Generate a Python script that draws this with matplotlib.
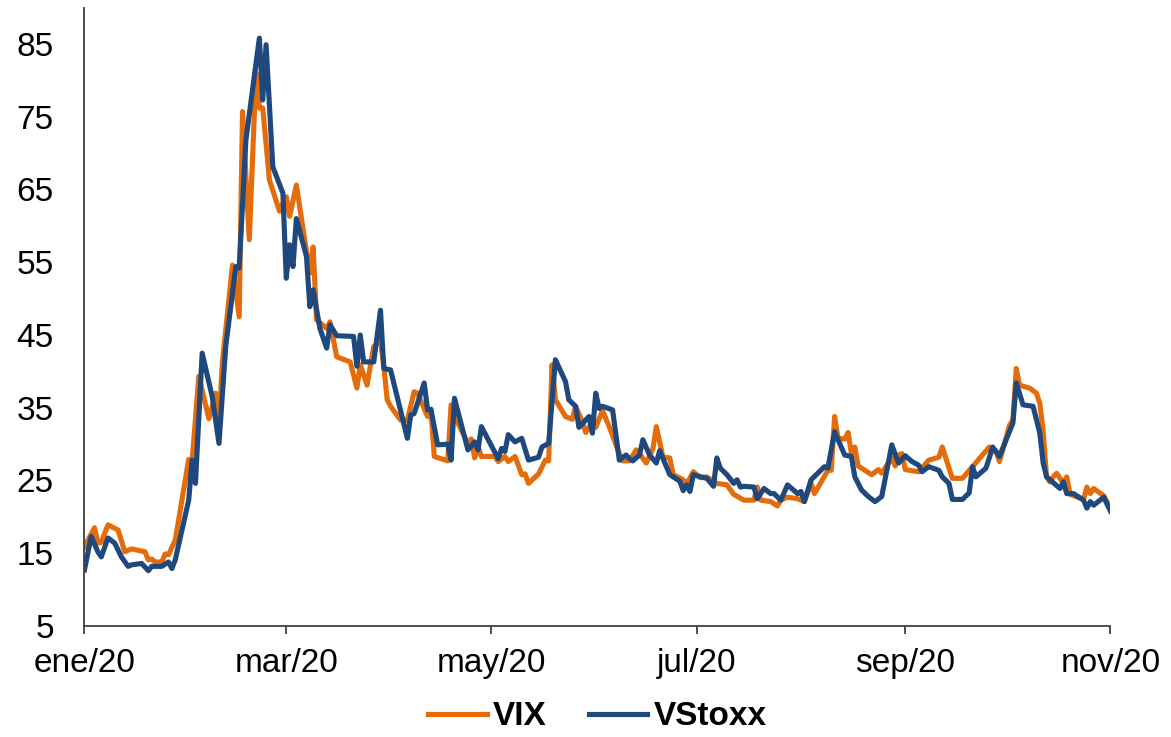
import numpy as np
import pandas as pd
import matplotlib
matplotlib.use('Agg')
import matplotlib.pyplot as plt
import matplotlib.dates as mdates

# days counted from 1 Jan 2020
vix_day = [0, 3, 4, 5, 7, 10, 12, 14, 18, 19, 20, 21, 23, 24, 25, 27, 31, 32, 34,
           37, 39, 40, 41, 44, 46, 47, 49, 51, 52, 53, 55, 58, 59, 60, 61, 63, 67,
           68, 69, 72, 73, 75, 79, 81, 82, 84, 86, 88, 89, 90, 91, 94, 96, 98, 99,
           102, 103, 104, 108, 109, 111, 114, 115, 116, 117, 118, 122, 123, 125,
           126, 128, 130, 131, 132, 135, 137, 138, 139, 140, 143, 145, 146, 148,
           149, 151, 152, 154, 156, 159, 160, 162, 164, 165, 167, 169, 170, 172,
           174, 175, 178, 179, 181, 183, 185, 188, 191, 193, 196, 199, 200, 201,
           204, 206, 207, 209, 212, 214, 216, 217, 221, 222, 223, 224, 226, 227,
           228, 229, 230, 234, 236, 237, 240, 241, 242, 243, 244, 248, 251, 254,
           255, 258, 261, 264, 269, 271, 272, 275, 276, 277, 278, 281, 283, 284,
           285, 286, 287, 288, 289, 291, 292, 293, 297, 298, 299, 300, 303, 305]
vix_val = [15.9, 18.5, 16.4, 16.5, 18.9, 18.2, 15.2, 15.6, 15.2, 14.1, 14.2, 13.8,
           13.8, 14.9, 14.8, 16.8, 27.9, 27.6, 39.3,
           33.5, 37.0, 32.9, 41.2, 54.6, 47.5, 75.7, 58.1, 81.0, 76.2, 76.2, 66.3,
           62.0, 63.1, 64.0, 61.3, 65.6, 53.5,
           57.1, 47.1, 45.9, 46.8, 42.0, 41.3, 37.7, 40.9, 38.1, 43.4, 44.3, 40.7,
           36.1, 35.2, 33.3, 33.3, 37.2, 37.0,
           33.8, 34.7, 28.3, 27.7, 35.4, 32.9, 30.1, 30.7, 28.1, 29.6, 28.3, 28.3,
           27.6, 28.3,
           27.6, 28.3, 25.8, 25.9, 24.6, 25.9, 27.8, 27.7, 40.9, 36.1, 33.8, 33.4,
           35.2, 33.1,
           31.6, 33.1, 32.3, 34.6, 32.4, 28.7, 27.7, 27.7, 29.2, 28.7, 27.4, 29.4,
           32.4, 28.2,
           28.1, 25.8, 25.1, 24.5, 26.2, 25.4, 25.5, 24.6, 24.4, 23.1, 22.3, 22.3,
           24.1, 22.3,
           22.1, 21.5, 22.3, 22.7, 22.5, 22.1, 24.6, 23.2, 26.4, 26.4, 33.8, 30.8,
           30.7, 31.6,
           28.7, 29.6, 27.0, 25.8, 26.5, 26.0, 28.1, 27.0, 28.5, 28.7, 26.5, 26.2,
           27.8, 28.2,
           29.6, 25.3, 25.3, 26.9, 29.6, 29.0, 27.6, 32.6, 33.3, 40.4, 38.1, 37.7,
           37.0, 35.6,
           31.7, 25.5, 24.8, 25.5, 26.0, 24.6, 25.5, 23.1, 22.4, 24.1, 23.2, 23.9,
           22.9, 21.2]

vstoxx_day = [0, 2, 4, 5, 7, 9, 11, 13, 14, 17, 19, 20, 23, 25, 26, 27, 31, 32, 33,
              35, 38, 40, 42, 45, 46, 48, 52, 53, 54, 56, 59, 60, 61, 62, 63, 66,
              67, 68, 70, 72, 73, 75, 80, 81, 82, 83, 86, 88, 89, 91, 96, 97, 98,
              101, 102, 103, 105, 108, 109, 110, 114, 116, 117, 118, 123, 124, 125,
              126, 128, 130, 132, 135, 136, 138, 140, 143, 144, 146, 147, 150, 151,
              152, 153, 154, 157, 159, 161, 162, 163, 165, 166, 168, 170, 171, 174,
              177, 178, 179, 180, 181, 184, 185, 187, 188, 189, 191, 193, 194, 195,
              196, 199, 200, 202, 204, 205, 207, 209, 212, 213, 214, 216, 220, 221,
              223, 226, 228, 229, 231, 233, 235, 237, 240, 242, 244, 246, 248, 249,
              251, 254, 255, 257, 258, 261, 263, 264, 265, 268, 270, 272, 276, 277,
              279, 282, 284, 285, 286, 290, 291, 292, 294, 297, 298, 299, 300, 303,
              305]
vstoxx_val = [12.7, 17.3, 15.2, 14.5, 17.1, 16.4, 14.5, 13.2, 13.4, 13.6, 12.6, 13.2,
              13.2, 13.8, 12.9, 14.1, 22.3, 27.8, 24.6,
              42.5, 36.5, 30.1, 43.4, 54.4, 54.2, 71.8, 85.8, 77.3, 84.9, 68.1, 64.5,
              52.8, 57.4, 54.4, 61.0, 55.8,
              48.9, 51.2, 45.9, 43.2, 46.4, 44.9, 44.8, 40.7, 45.0, 41.3, 41.3, 48.4,
              40.4, 40.2, 30.8, 34.0, 34.2,
              38.4, 34.7, 34.8, 29.9, 30.0, 27.8, 36.3, 29.2, 30.3, 29.2, 32.4, 28.0,
              29.4, 29.0,
              31.3, 30.3, 30.8, 27.8, 28.2, 29.6, 30.1, 41.6, 38.6, 36.1, 35.2, 32.3,
              33.8, 31.5,
              37.0, 34.9, 35.2, 34.7, 27.8, 28.5, 28.0, 27.7, 28.5, 30.6, 28.5, 27.4,
              29.1, 25.8,
              24.9, 23.6, 24.4, 23.5, 25.8, 25.4, 25.3, 24.2, 28.1, 26.7, 25.8, 24.6,
              25.1, 24.1,
              24.2, 24.1, 22.5, 23.9, 23.2, 23.2, 22.3, 24.4, 23.2, 23.5, 22.1, 25.1,
              26.9, 26.7,
              31.7, 28.5, 28.3, 25.5, 23.7, 22.8, 22.1, 22.8, 29.9, 27.4, 28.4, 27.6,
              27.1, 26.2,
              26.9, 26.4, 25.5, 24.6, 22.4, 22.4, 23.3, 26.9, 25.5, 26.7, 29.6, 28.3,
              32.9, 38.4,
              35.4, 35.2, 31.5, 27.4, 25.5, 23.9, 24.8, 23.2, 23.2, 22.3, 21.2, 22.1,
              21.6, 22.7,
              20.8]

x_ticks = ['2020-01-01', '2020-03-01', '2020-05-01', '2020-07-01', '2020-09-01', '2020-11-01']
x_labels = ['ene/20', 'mar/20', 'may/20', 'jul/20', 'sep/20', 'nov/20']
y_ticks = [5, 15, 25, 35, 45, 55, 65, 75, 85]

start = pd.Timestamp('2020-01-01')
vix_dates = start + pd.to_timedelta(vix_day, unit='D')
vstoxx_dates = start + pd.to_timedelta(vstoxx_day, unit='D')

plt.rcParams['font.family'] = ['Liberation Sans', 'DejaVu Sans']

fig = plt.figure(figsize=(11.71, 7.37), dpi=100)
ax = fig.add_axes([0.0721, 0.1506, 0.9483 - 0.0721, 0.9897 - 0.1506])

ax.plot(vix_dates, vix_val, color='#E46C0A', lw=3.7, label='VIX', solid_joinstyle='round')
ax.plot(vstoxx_dates, vstoxx_val, color='#1F497D', lw=3.7, label='VStoxx', solid_joinstyle='round')

ax.set_xlim(pd.Timestamp(x_ticks[0]), pd.Timestamp(x_ticks[-1]))
ax.set_ylim(5, 90)
ax.set_xticks(pd.to_datetime(x_ticks))
ax.set_xticklabels(x_labels)
ax.set_yticks(y_ticks)

for s in ['top', 'right']:
    ax.spines[s].set_visible(False)
for s in ['left', 'bottom']:
    ax.spines[s].set_color('#404040')
    ax.spines[s].set_linewidth(1.3)

ax.tick_params(axis='x', labelsize=24, length=6, width=1.3, color='#404040', pad=10)
ax.tick_params(axis='y', labelsize=24, length=0, pad=22)

leg = ax.legend(loc='upper center', bbox_to_anchor=(0.5, -0.1), ncol=2, frameon=False,
                prop={'size': 24, 'weight': 'bold'}, handlelength=1.75, handletextpad=0.2,
                columnspacing=1.25, borderaxespad=0)

fig.savefig('out.png', dpi=100)
